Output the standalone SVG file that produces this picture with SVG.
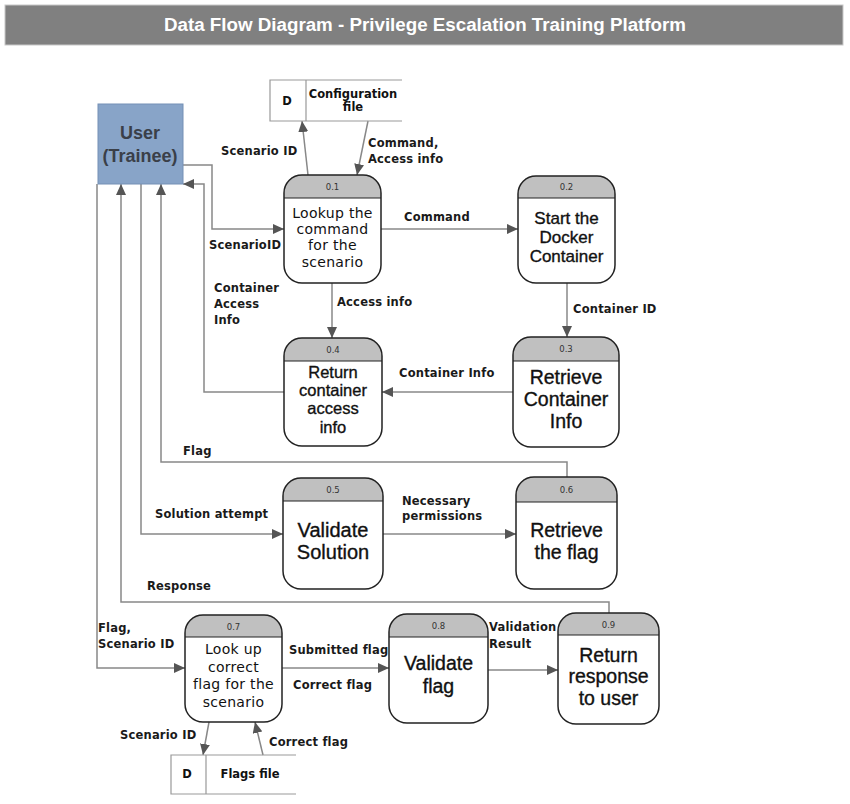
<svg xmlns="http://www.w3.org/2000/svg" width="850" height="804" viewBox="0 0 850 804">
<defs>
<marker id="arr" markerUnits="userSpaceOnUse" markerWidth="12" markerHeight="10" refX="11" refY="5" orient="auto">
<path d="M0,0 L11,5 L0,10 Z" fill="#555"/>
</marker>
<style>
.title{font-family:"Liberation Sans",Arial,sans-serif;font-weight:bold;font-size:18px;fill:#fff}
.conn{fill:none;stroke:#888;stroke-width:1.5;marker-end:url(#arr)}
.body{fill:#fff;stroke:#222;stroke-width:1.5}
.head{fill:#c0c0c0;stroke:none}
.sep{stroke:#222;stroke-width:1.2}
.num{font-family:"DejaVu Sans",sans-serif;font-size:8.5px;fill:#333;text-anchor:middle}
.t1{font-family:"DejaVu Sans",Verdana,sans-serif;font-size:14px;letter-spacing:0.3px;fill:#111;text-anchor:middle}
.t2{font-family:"Liberation Sans",Arial,sans-serif;fill:#111;stroke:#111;stroke-width:0.35;text-anchor:middle}
.lbl{font-family:"DejaVu Sans",Verdana,sans-serif;font-weight:bold;font-size:11.5px;letter-spacing:0.2px;fill:#1a1a1a}
.store{fill:none;stroke:#999;stroke-width:1.2}
.st{font-family:"DejaVu Sans",Verdana,sans-serif;font-weight:bold;font-size:11.5px;fill:#111;text-anchor:middle}
.user{font-family:"Liberation Sans",Arial,sans-serif;font-weight:bold;font-size:18px;fill:#3a3f48;text-anchor:middle}
</style>
</defs>
<rect width="850" height="804" fill="#fff"/>
<g id="title">
<rect x="5" y="5" width="838" height="40" fill="#808080" stroke="#c8c8c8" stroke-width="1"/>
<text class="title" x="425" y="31" text-anchor="middle" textLength="522" lengthAdjust="spacingAndGlyphs">Data Flow Diagram - Privilege Escalation Training Platform</text>
</g>

<g id="connectors">
<path class="conn" d="M183,165 H212 V229 H284"/>
<path class="conn" d="M308,175 L302,121"/>
<path class="conn" d="M368,121 L357,175"/>
<path class="conn" d="M381,229 H518"/>
<path class="conn" d="M567,283 V337"/>
<path class="conn" d="M513,392 H382"/>
<path class="conn" d="M332,283 V338"/>
<path class="conn" d="M284,392 H204 V184 H183"/>
<path class="conn" d="M567,477 V462 H161 V184"/>
<path class="conn" d="M141,184 V534 H283"/>
<path class="conn" d="M383,534 H516"/>
<path class="conn" d="M609,613 V602 H121 V184"/>
<path class="conn" d="M97,184 V668 H185"/>
<path class="conn" d="M282,668 H389"/>
<path class="conn" d="M488,670 H558"/>
<path class="conn" d="M209,722 L203,755"/>
<path class="conn" d="M263,755 L255,722"/>
</g>

<g id="labels">
<text class="lbl" x="221" y="155">Scenario ID</text>
<text class="lbl" x="368" y="147">Command,</text>
<text class="lbl" x="368" y="163">Access info</text>
<text class="lbl" x="209" y="249">ScenarioID</text>
<text class="lbl" x="404" y="221">Command</text>
<text class="lbl" x="214" y="292">Container</text>
<text class="lbl" x="214" y="308">Access</text>
<text class="lbl" x="214" y="324">Info</text>
<text class="lbl" x="337" y="306">Access info</text>
<text class="lbl" x="573" y="313">Container ID</text>
<text class="lbl" x="399" y="377">Container Info</text>
<text class="lbl" x="183" y="455">Flag</text>
<text class="lbl" x="155" y="518">Solution attempt</text>
<text class="lbl" x="402" y="505">Necessary</text>
<text class="lbl" x="402" y="520">permissions</text>
<text class="lbl" x="147" y="590">Response</text>
<text class="lbl" x="98" y="632">Flag,</text>
<text class="lbl" x="98" y="648">Scenario ID</text>
<text class="lbl" x="289" y="654">Submitted flag</text>
<text class="lbl" x="293" y="689">Correct flag</text>
<text class="lbl" x="489" y="631">Validation</text>
<text class="lbl" x="489" y="648">Result</text>
<text class="lbl" x="120" y="739">Scenario ID</text>
<text class="lbl" x="269" y="746">Correct flag</text>
</g>

<g id="user">
<rect x="98" y="104" width="85" height="80" fill="#88a4c8" stroke="#7590b5" stroke-width="1"/>
<text class="user" x="140" y="139">User</text>
<text class="user" x="140" y="162">(Trainee)</text>
</g>

<g id="config-file">
<path class="store" d="M402,80 H270 V121 H402 M306,80 V121"/>
<text class="st" x="287" y="105">D</text>
<text class="st" x="353" y="98">Configuration</text>
<text class="st" x="353" y="111">file</text>
</g>

<g id="flags-file">
<path class="store" d="M296,755 H171 V794 H296 M206,755 V794"/>
<text class="st" x="187" y="778">D</text>
<text class="st" x="250" y="778">Flags file</text>
</g>

<g id="p01">
<path class="head" d="M284,198 V193 A18,18 0 0 1 302,175 H363 A18,18 0 0 1 381,193 V198 Z"/>
<rect class="body" x="284" y="175" width="97" height="108" rx="18" fill-opacity="0"/>
<line class="sep" x1="284" y1="198" x2="381" y2="198"/>
<text class="num" x="332.5" y="190">0.1</text>
<text class="t1" x="332.5" y="218">Lookup the</text>
<text class="t1" x="332.5" y="234">command</text>
<text class="t1" x="332.5" y="250">for the</text>
<text class="t1" x="332.5" y="267">scenario</text>
</g>

<g id="p02">
<path class="head" d="M518,198 V194 A18,18 0 0 1 536,176 H597 A18,18 0 0 1 615,194 V198 Z"/>
<rect class="body" x="518" y="176" width="97" height="107" rx="18" fill-opacity="0"/>
<line class="sep" x1="518" y1="198" x2="615" y2="198"/>
<text class="num" x="566.5" y="190">0.2</text>
<text class="t2" x="566.5" y="224" font-size="17">Start the</text>
<text class="t2" x="566.5" y="243" font-size="17">Docker</text>
<text class="t2" x="566.5" y="262" font-size="17">Container</text>
</g>

<g id="p03">
<path class="head" d="M513,361 V355 A18,18 0 0 1 531,337 H601 A18,18 0 0 1 619,355 V361 Z"/>
<rect class="body" x="513" y="337" width="106" height="110" rx="18" fill-opacity="0"/>
<line class="sep" x1="513" y1="361" x2="619" y2="361"/>
<text class="num" x="566" y="352">0.3</text>
<text class="t2" x="566" y="384" font-size="19.5">Retrieve</text>
<text class="t2" x="566" y="406" font-size="19.5">Container</text>
<text class="t2" x="566" y="428" font-size="19.5">Info</text>
</g>

<g id="p04">
<path class="head" d="M284,361 V356 A18,18 0 0 1 302,338 H364 A18,18 0 0 1 382,356 V361 Z"/>
<rect class="body" x="284" y="338" width="98" height="108" rx="18" fill-opacity="0"/>
<line class="sep" x1="284" y1="361" x2="382" y2="361"/>
<text class="num" x="333" y="353">0.4</text>
<text class="t2" x="333" y="378" font-size="16.5">Return</text>
<text class="t2" x="333" y="396" font-size="16.5">container</text>
<text class="t2" x="333" y="414" font-size="16.5">access</text>
<text class="t2" x="333" y="433" font-size="16.5">info</text>
</g>

<g id="p05">
<path class="head" d="M283,501 V496 A18,18 0 0 1 301,478 H365 A18,18 0 0 1 383,496 V501 Z"/>
<rect class="body" x="283" y="478" width="100" height="111" rx="18" fill-opacity="0"/>
<line class="sep" x1="283" y1="501" x2="383" y2="501"/>
<text class="num" x="333" y="493">0.5</text>
<text class="t2" x="333" y="537" font-size="20">Validate</text>
<text class="t2" x="333" y="559" font-size="20">Solution</text>
</g>

<g id="p06">
<path class="head" d="M516,502 V495 A18,18 0 0 1 534,477 H599 A18,18 0 0 1 617,495 V502 Z"/>
<rect class="body" x="516" y="477" width="101" height="112" rx="18" fill-opacity="0"/>
<line class="sep" x1="516" y1="502" x2="617" y2="502"/>
<text class="num" x="566.5" y="493">0.6</text>
<text class="t2" x="566.5" y="537" font-size="19.5">Retrieve</text>
<text class="t2" x="566.5" y="559" font-size="19.5">the flag</text>
</g>

<g id="p07">
<path class="head" d="M185,637 V633 A18,18 0 0 1 203,615 H264 A18,18 0 0 1 282,633 V637 Z"/>
<rect class="body" x="185" y="615" width="97" height="107" rx="18" fill-opacity="0"/>
<line class="sep" x1="185" y1="637" x2="282" y2="637"/>
<text class="num" x="233.5" y="630">0.7</text>
<text class="t1" x="233.5" y="654">Look up</text>
<text class="t1" x="233.5" y="672">correct</text>
<text class="t1" x="233.5" y="689">flag for the</text>
<text class="t1" x="233.5" y="707">scenario</text>
</g>

<g id="p08">
<path class="head" d="M389,637 V632 A18,18 0 0 1 407,614 H470 A18,18 0 0 1 488,632 V637 Z"/>
<rect class="body" x="389" y="614" width="99" height="109" rx="18" fill-opacity="0"/>
<line class="sep" x1="389" y1="637" x2="488" y2="637"/>
<text class="num" x="438.5" y="629">0.8</text>
<text class="t2" x="438.5" y="670" font-size="19.5">Validate</text>
<text class="t2" x="438.5" y="693" font-size="19.5">flag</text>
</g>

<g id="p09">
<path class="head" d="M558,635 V631 A18,18 0 0 1 576,613 H641 A18,18 0 0 1 659,631 V635 Z"/>
<rect class="body" x="558" y="613" width="101" height="111" rx="18" fill-opacity="0"/>
<line class="sep" x1="558" y1="635" x2="659" y2="635"/>
<text class="num" x="608.5" y="628">0.9</text>
<text class="t2" x="608.5" y="662" font-size="19.5">Return</text>
<text class="t2" x="608.5" y="683" font-size="19.5">response</text>
<text class="t2" x="608.5" y="705" font-size="19.5">to user</text>
</g>
</svg>
